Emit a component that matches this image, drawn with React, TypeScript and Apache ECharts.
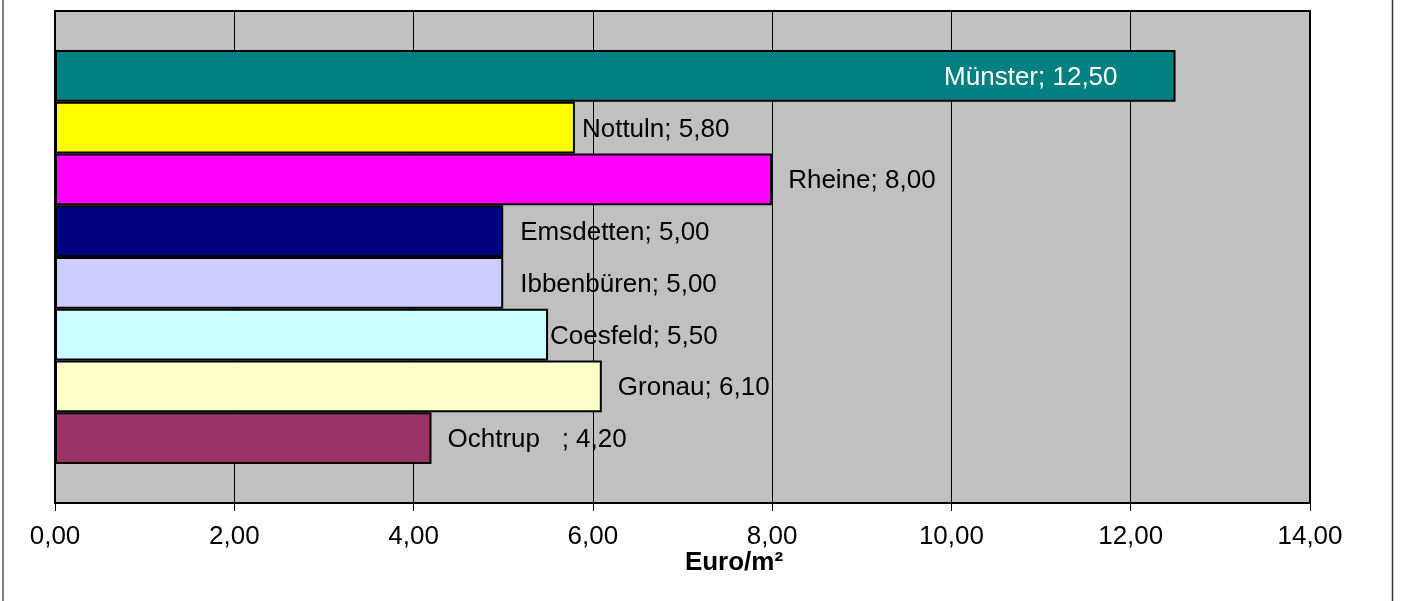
import React, { useEffect, useRef } from "react";
import * as echarts from "echarts";

const cities = ["Münster", "Nottuln", "Rheine", "Emsdetten", "Ibbenbüren", "Coesfeld", "Gronau", "Ochtrup   "];
const values = [12.5, 5.8, 8.0, 5.0, 5.0, 5.5, 6.1, 4.2];
const colors = ["#008080", "#FFFF00", "#FF00FF", "#000080", "#CCCCFF", "#CCFFFF", "#FFFFCC", "#993366"];
const labelDistances = [58, 7, 16, 17, 17, 2, 16, 16];
const xTicks = [0, 2, 4, 6, 8, 10, 12, 14];
const axisTitle = "Euro/m²";

const fmt = (v: number) => v.toFixed(2).replace(".", ",");

export default function App() {
  const ref = useRef<HTMLDivElement>(null);
  useEffect(() => {
    if (!ref.current) return;
    const chart = echarts.init(ref.current, undefined, { renderer: "svg" });
    const font = "Liberation Sans, Arial, sans-serif";
    const series = cities.map((name, i) => ({
      name,
      type: "bar",
      data: [values[i]],
      barGap: "0%",
      barCategoryGap: "15.85%",
      itemStyle: { color: colors[i], borderColor: "#000", borderWidth: 2 },
      label: {
        show: true,
        position: i === 0 ? "insideRight" : "right",
        distance: labelDistances[i],
        color: i === 0 ? "#fff" : "#000",
        fontSize: 26,
        fontFamily: font,
        formatter: (p: any) => `${p.seriesName}; ${fmt(p.value)}`,
      },
      z: 1,
    }));
    chart.setOption({
      animation: false,
      title: {
        text: axisTitle,
        left: 729,
        top: 543,
        textAlign: "center",
        textStyle: { fontSize: 26, fontWeight: "bold", fontFamily: font, color: "#000" },
      },
      grid: {
        left: 55,
        right: 95,
        top: 11,
        bottom: 98,
        show: true,
        backgroundColor: "#C0C0C0",
        borderColor: "#000",
        borderWidth: 2,
      },
      xAxis: {
        type: "value",
        min: xTicks[0],
        max: xTicks[xTicks.length - 1],
        interval: 2,
        axisLine: { show: true, lineStyle: { color: "#000", width: 2 } },
        axisTick: { show: true, length: 8, lineStyle: { color: "#000" } },
        axisLabel: {
          fontSize: 26,
          fontFamily: font,
          color: "#000",
          margin: 19,
          formatter: (v: number) => fmt(v),
        },
        splitLine: { show: true, lineStyle: { color: "#000", width: 1 } },
      },
      yAxis: {
        type: "category",
        data: [""],
        axisLine: { show: false },
        axisTick: { show: false },
        axisLabel: { show: false },
      },
      graphic: [
        { type: "line", shape: { x1: 3, y1: 0, x2: 3, y2: 601 }, style: { stroke: "#808080", lineWidth: 2 } },
        { type: "line", shape: { x1: 1392.5, y1: 0, x2: 1392.5, y2: 601 }, style: { stroke: "#333", lineWidth: 1.5 } },
      ],
      series,
    });
    return () => chart.dispose();
  }, []);
  return <div ref={ref} style={{ position: "fixed", left: 0, top: 0, width: 1405, height: 601 }} />;
}
